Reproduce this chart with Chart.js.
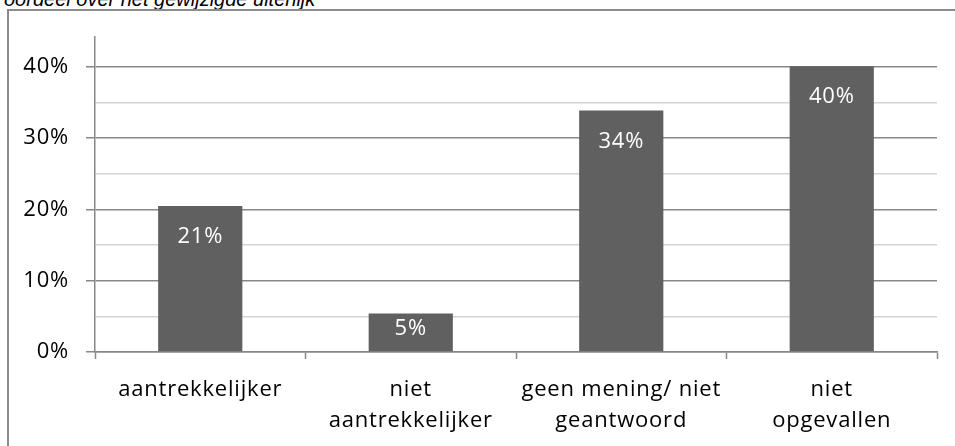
<!DOCTYPE html>
<html lang="nl">
<head>
<meta charset="UTF-8">
<title>oordeel over het gewijzigde uiterlijk</title>
<style>
  body { margin: 0; background: #fff; }
  .wrap { position: relative; width: 955px; height: 446px; overflow: hidden; }
  .title { position: absolute; left: 4px; top: -12px; line-height: 20px; font: italic 20px "Liberation Sans", Arial, sans-serif; color: #000; white-space: nowrap; }
  .box { position: absolute; left: 7px; top: 9px; width: 1000px; height: 500px; border: 2px solid #8c8c8c; }
  canvas { position: absolute; left: 0; top: 0; }
</style>
</head>
<body>
<div class="wrap">
  <div class="title">oordeel over het gewijzigde uiterlijk</div>
  <div class="box"></div>
  <canvas id="chart" width="955" height="446"></canvas>
</div>
<script src="https://cdn.jsdelivr.net/npm/chart.js"></script>
<script>
  const categories = [
    ['aantrekkelijker'],
    ['niet', 'aantrekkelijker'],
    ['geen mening/ niet', 'geantwoord'],
    ['niet', 'opgevallen']
  ];
  const values = [0.205, 0.054, 0.339, 0.401];
  const yMax = 0.442;

  const fontFamily = '"Open Sans", "Noto Sans", sans-serif';
  const gridDark = '#888888';
  const gridLight = '#d4d4d4';

  // Excel draws this font slightly spaced out
  function spacing(chart) {
    chart.ctx.letterSpacing = '0.8px';
  }

  const barLabels = {
    id: 'barLabels',
    afterDatasetsDraw(chart) {
      const ctx = chart.ctx;
      const meta = chart.getDatasetMeta(0);
      ctx.save();
      ctx.letterSpacing = '0.8px';
      ctx.fillStyle = '#ffffff';
      ctx.font = '22px ' + fontFamily;
      ctx.textAlign = 'center';
      ctx.textBaseline = 'middle';
      meta.data.forEach((bar, i) => {
        const top = bar.y, base = bar.base;
        const y = Math.min(top + 31, (top + base) / 2 - 4);
        ctx.fillText(Math.round(values[i] * 100) + '%', bar.x, y);
      });
      ctx.restore();
    }
  };

  new Chart(document.getElementById('chart'), {
    type: 'bar',
    data: {
      labels: categories,
      datasets: [{
        data: values,
        backgroundColor: '#606060',
        borderWidth: 0,
        categoryPercentage: 1,
        barPercentage: 0.4
      }]
    },
    plugins: [
      { id: 'spacing', beforeUpdate: spacing, beforeLayout: spacing, beforeDraw: spacing },
      barLabels
    ],
    options: {
      responsive: false,
      animation: false,
      layout: { padding: { left: 0, right: 18, top: 37, bottom: 0 } },
      plugins: { legend: { display: false }, tooltip: { enabled: false } },
      scales: {
        x: {
          afterFit(scale) { scale.height = 94; },
          grid: {
            offset: true,
            drawOnChartArea: false,
            tickLength: 7,
            tickColor: gridDark,
            tickWidth: 1.5
          },
          border: { color: gridDark, width: 1.5 },
          ticks: {
            color: '#000',
            padding: 15.5,
            maxRotation: 0,
            autoSkip: false,
            font: { family: fontFamily, size: 22, lineHeight: 1.41 }
          }
        },
        y: {
          min: 0,
          max: yMax,
          afterFit(scale) { scale.width = 95; },
          grid: {
            color: c => (Math.round(c.tick.value * 100) % 10 === 0 ? gridDark : gridLight),
            tickColor: c => (Math.round(c.tick.value * 100) % 10 === 0 ? gridDark : 'rgba(0,0,0,0)'),
            lineWidth: 1.5,
            tickWidth: 1.5,
            tickLength: 9
          },
          border: { color: gridDark, width: 1.5 },
          ticks: {
            stepSize: 0.05,
            includeBounds: false,
            color: '#000',
            padding: 17,
            font: { family: fontFamily, size: 22 },
            callback: v => (Math.round(v * 100) % 10 === 0 ? Math.round(v * 100) + '%' : '')
          }
        }
      }
    }
  });
</script>
</body>
</html>
